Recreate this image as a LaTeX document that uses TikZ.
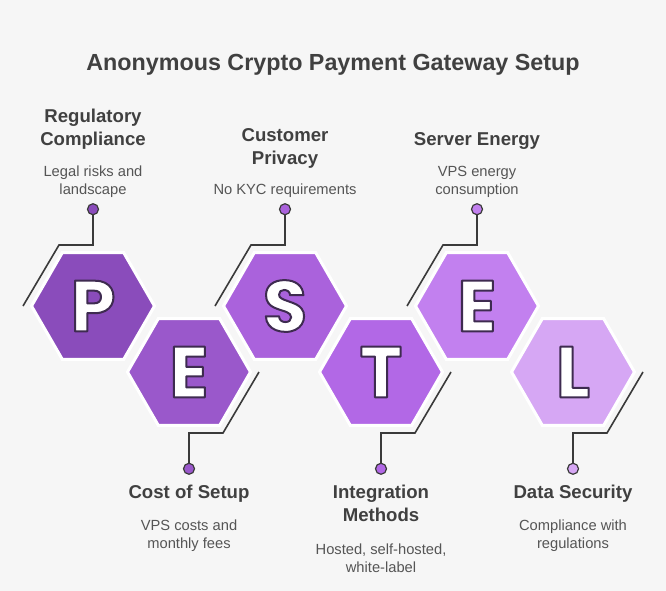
\documentclass[tikz,border=0pt]{standalone}
\usepackage{fontspec}
\setmainfont{Liberation Sans}
\newfontfamily\hexfont{Poppins}
\usepackage{xcolor}
\usetikzlibrary{shapes.geometric,positioning,calc}

\definecolor{bggray}{HTML}{F6F6F6}
\definecolor{inkgray}{HTML}{404040}
\definecolor{descgray}{HTML}{555555}
\definecolor{linegray}{HTML}{3A3A3A}
\definecolor{polcol}{HTML}{8A4CBB}
\definecolor{ecocol}{HTML}{9A58CB}
\definecolor{soccol}{HTML}{AA62DC}
\definecolor{teccol}{HTML}{B268E6}
\definecolor{envcol}{HTML}{C280EF}
\definecolor{legcol}{HTML}{D6A7F4}

% white letter with a dark purple outline
\newcommand\hexletter[1]{%
  \special{pdf:literal direct q 2 Tr 2 w 1 J 1 j 0.243 0.169 0.314 RG}%
  #1\special{pdf:literal direct Q}}

\begin{document}
\begin{tikzpicture}[
  x=1pt, y=-1pt,
  hex/.style={regular polygon, regular polygon sides=6, minimum size=123pt,
    inner sep=0pt, outer sep=0pt, draw=white, line width=3pt, text=white,
    font=\hexfont\bfseries\fontsize{72}{72}\selectfont},
  dot/.style={circle, draw=linegray, line width=1.2pt, minimum size=11pt,
    inner sep=0pt, outer sep=0pt},
  link/.style={draw=linegray, line width=1.6pt},
  head/.style={inner sep=0pt, align=center, text=inkgray,
    font=\bfseries\fontsize{18.6}{23}\selectfont},
  desc/.style={inner sep=0pt, align=center, text=descgray,
    font=\fontsize{14.7}{18}\selectfont}
]
  \fill[bggray] (0,0) rectangle (666,591);
  \useasboundingbox (0,0) rectangle (666,591);

  \node[anchor=base, text=inkgray, font=\bfseries\fontsize{23.3}{28}\selectfont]
    (title) at (333,71) {Anonymous Crypto Payment Gateway Setup};

  % the six hexagons
  \node[hex, fill=polcol] (pol) at (93,306) {\hexletter{P}};
  \node[hex, fill=ecocol] (eco) at (189,372) {\hexletter{E}};
  \node[hex, fill=soccol] (soc) at (285,306) {\hexletter{S}};
  \node[hex, fill=teccol] (tec) at (381,372) {\hexletter{T}};
  \node[hex, fill=envcol] (env) at (477,306) {\hexletter{E}};
  \node[hex, fill=legcol] (leg) at (573,372) {\hexletter{L}};

  % upper labels
  \node[dot, fill=polcol, above=38pt of pol] (poldot) {};
  \node[desc, above=6pt of poldot] (poldesc) {Legal risks and\\landscape};
  \node[head, above=16pt of poldesc] (polhead) {Regulatory\\Compliance};

  \node[dot, fill=soccol, above=38pt of soc] (socdot) {};
  \node[desc, above=6pt of socdot] (socdesc) {No KYC requirements};
  \node[head, above=15pt of socdesc] (sochead) {Customer\\Privacy};

  \node[dot, fill=envcol, above=38pt of env] (envdot) {};
  \node[desc, above=6pt of envdot] (envdesc) {VPS energy\\consumption};
  \node[head, above=16pt of envdesc] (envhead) {Server Energy};

  % lower labels
  \node[dot, fill=ecocol, below=38pt of eco] (ecodot) {};
  \node[head, below=11pt of ecodot] (ecohead) {Cost of Setup};
  \node[desc, below=17pt of ecohead] (ecodesc) {VPS costs and\\monthly fees};

  \node[dot, fill=teccol, below=38pt of tec] (tecdot) {};
  \node[head, below=11pt of tecdot] (techead) {Integration\\Methods};
  \node[desc, below=21pt of techead] (tecdesc) {Hosted, self-hosted,\\white-label};

  \node[dot, fill=legcol, below=38pt of leg] (legdot) {};
  \node[head, below=11pt of legdot] (leghead) {Data Security};
  \node[desc, below=17pt of leghead] (legdesc) {Compliance with\\regulations};

  % connectors
  \draw[link] (poldot) |- ($(pol)+(-34,-61)$) -- ($(pol)+(-70,0)$);
  \draw[link] (socdot) |- ($(soc)+(-34,-61)$) -- ($(soc)+(-70,0)$);
  \draw[link] (envdot) |- ($(env)+(-34,-61)$) -- ($(env)+(-70,0)$);
  \draw[link] (ecodot) |- ($(eco)+(34,61)$) -- ($(eco)+(70,0)$);
  \draw[link] (tecdot) |- ($(tec)+(34,61)$) -- ($(tec)+(70,0)$);
  \draw[link] (legdot) |- ($(leg)+(34,61)$) -- ($(leg)+(70,0)$);
\end{tikzpicture}
\end{document}
